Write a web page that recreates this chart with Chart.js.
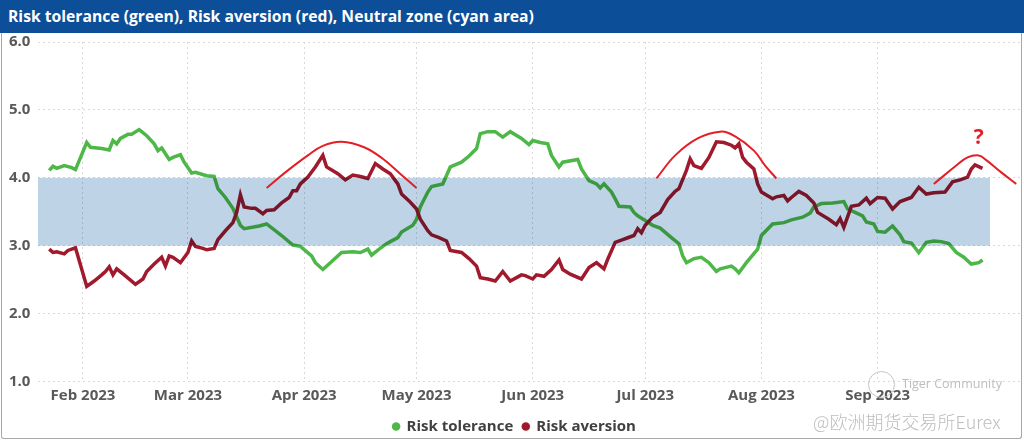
<!DOCTYPE html>
<html>
<head>
<meta charset="utf-8">
<title>Risk tolerance / Risk aversion</title>
<script src="https://cdn.jsdelivr.net/npm/chart.js@4.4.0/dist/chart.umd.min.js"></script>
<style>
    html, body { margin: 0; padding: 0; background: #fff; }
    #wrap { position: relative; width: 1024px; height: 444px; overflow: hidden; font-family: 'Open Sans', sans-serif; }
    #titleBar {
        position: absolute; left: 0; top: 0; width: 1024px; height: 33px;
        background: #0c4e98; color: #fff; font-weight: bold; font-size: 15.7px;
        line-height: 33px; padding-left: 8px; box-sizing: border-box; z-index: 3;
    }
    #frame {
        position: absolute; left: 1px; top: 33px; width: 1019px; height: 405px;
        border: 1px solid #a8a8a8; border-top: none; border-radius: 0 0 3px 3px;
    }
    #riskChart { position: absolute; left: 0; top: 0; z-index: 1; }
    .wm { position: absolute; z-index: 2; color: #bdbdbd; white-space: nowrap; }
    #wmLogo { left: 868px; top: 371px; width: 25px; height: 25px; border: 1px solid #c4c4c4; border-radius: 50%; }
    #wmTiger { left: 902px; top: 375px; font-size: 12.5px; }
    #wmEurex { left: 813px; top: 408px; font-size: 18px; font-family: 'Noto Sans CJK SC', sans-serif; font-weight: 300; }
</style>
</head>
<body>
<div id="wrap">
    <div id="titleBar">Risk tolerance (green), Risk aversion (red), Neutral zone (cyan area)</div>
    <div id="frame"></div>
    <canvas id="riskChart" width="1024" height="444"></canvas>
    <div class="wm" id="wmLogo"></div>
    <div class="wm" id="wmTiger">Tiger Community</div>
    <div class="wm" id="wmEurex">@欧洲期货交易所Eurex</div>
</div>

<script>
// Risk tolerance (green line)
const toleranceDates = ['01-23','01-24','01-25','01-27','01-29','01-30','02-02','02-03','02-06','02-08',
    '02-09','02-10','02-11','02-13','02-14','02-16','02-18','02-20','02-21','02-22',
    '02-24','02-25','02-27','02-28','03-02','03-03','03-06','03-08','03-09','03-11',
    '03-13','03-15','03-16','03-20','03-22','03-26','03-29','03-31','04-03','04-04',
    '04-06','04-08','04-11','04-14','04-16','04-18','04-19','04-21','04-23','04-24',
    '04-26','04-27','04-30','05-01','05-02','05-04','05-05','05-08','05-10','05-13',
    '05-15','05-17','05-18','05-20','05-22','05-24','05-26','05-29','05-31','06-01',
    '06-03','06-05','06-06','06-08','06-09','06-13','06-14','06-16','06-18','06-19',
    '06-20','06-22','06-23','06-24','06-27','06-28','06-29','07-01','07-03','07-05',
    '07-08','07-10','07-11','07-12','07-14','07-16','07-18','07-20','07-21','07-24',
    '07-25','07-26','07-28','07-31','08-01','08-04','08-07','08-09','08-12','08-14',
    '08-15','08-17','08-20','08-23','08-24','08-26','08-28','08-29','08-31','09-01',
    '09-03','09-05','09-07','09-08','09-10','09-12','09-14','09-16','09-18','09-20',
    '09-22','09-24','09-26','09-28','09-29'];
const toleranceValues = [4.11,4.17,4.14,4.18,4.15,4.12,4.52,4.45,4.43,4.41,
    4.55,4.50,4.58,4.64,4.64,4.71,4.62,4.50,4.40,4.44,
    4.27,4.30,4.34,4.23,4.07,4.08,4.03,4.02,3.84,3.71,
    3.55,3.30,3.25,3.29,3.32,3.15,3.01,2.99,2.85,2.75,
    2.65,2.75,2.90,2.91,2.90,2.95,2.86,2.95,3.03,3.06,
    3.12,3.20,3.30,3.39,3.57,3.79,3.87,3.91,4.16,4.23,
    4.32,4.43,4.65,4.68,4.68,4.60,4.68,4.58,4.49,4.55,
    4.52,4.50,4.33,4.16,4.23,4.27,4.13,3.96,3.91,3.85,
    3.91,3.79,3.69,3.58,3.57,3.49,3.44,3.37,3.30,3.26,
    3.12,3.03,2.85,2.75,2.81,2.83,2.75,2.62,2.66,2.70,
    2.66,2.60,2.75,2.95,3.15,3.32,3.34,3.38,3.42,3.48,
    3.57,3.62,3.63,3.65,3.54,3.49,3.44,3.35,3.32,3.21,
    3.20,3.29,3.16,3.06,3.04,2.90,3.05,3.07,3.06,3.03,
    2.90,2.83,2.73,2.75,2.79];

// Risk aversion (red line)
const aversionDates = ['01-23','01-24','01-25','01-27','01-28','01-30','02-02','02-04','02-06','02-07',
    '02-08','02-09','02-10','02-12','02-15','02-17','02-18','02-20','02-22','02-23',
    '02-24','02-25','02-27','03-01','03-02','03-03','03-05','03-06','03-08','03-09',
    '03-11','03-13','03-14','03-15','03-16','03-18','03-19','03-21','03-22','03-24',
    '03-26','03-28','03-29','03-30','03-31','04-02','04-04','04-06','04-07','04-10',
    '04-12','04-14','04-16','04-18','04-20','04-22','04-24','04-26','04-27','04-29',
    '05-01','05-02','05-04','05-05','05-07','05-09','05-10','05-13','05-15','05-17',
    '05-18','05-20','05-22','05-24','05-26','05-29','05-30','06-01','06-02','06-04',
    '06-06','06-08','06-09','06-11','06-14','06-16','06-18','06-20','06-21','06-23',
    '06-25','06-26','06-28','06-29','06-30','07-01','07-03','07-05','07-07','07-09',
    '07-10','07-12','07-13','07-14','07-16','07-18','07-20','07-22','07-24','07-25',
    '07-26','07-27','07-28','07-30','07-31','08-01','08-04','08-05','08-07','08-08',
    '08-09','08-11','08-13','08-15','08-16','08-19','08-21','08-22','08-23','08-25',
    '08-27','08-29','08-30','09-01','09-03','09-05','09-07','09-10','09-12','09-14',
    '09-16','09-19','09-21','09-23','09-25','09-26','09-27','09-29'];
const aversionValues = [2.95,2.90,2.91,2.88,2.93,2.97,2.40,2.48,2.57,2.62,
    2.69,2.57,2.66,2.57,2.43,2.51,2.62,2.73,2.83,2.70,
    2.85,2.83,2.75,2.90,3.07,2.99,2.96,2.94,2.96,3.09,
    3.22,3.34,3.49,3.75,3.57,3.55,3.55,3.47,3.52,3.53,
    3.63,3.71,3.81,3.81,3.91,4.01,4.16,4.33,4.16,4.06,
    3.97,4.04,4.02,3.99,4.21,4.13,4.06,3.91,3.76,3.66,
    3.54,3.39,3.22,3.16,3.12,3.07,2.93,2.90,2.81,2.70,
    2.53,2.51,2.48,2.62,2.48,2.57,2.56,2.51,2.57,2.55,
    2.65,2.79,2.65,2.58,2.51,2.68,2.75,2.66,2.80,3.05,
    3.09,3.11,3.15,3.25,3.19,3.30,3.42,3.49,3.68,3.80,
    3.84,4.11,4.28,4.18,4.14,4.30,4.53,4.52,4.48,4.44,
    4.50,4.30,4.23,4.13,3.91,3.79,3.69,3.72,3.74,3.66,
    3.71,3.80,3.74,3.63,3.49,3.39,3.31,3.40,3.27,3.58,
    3.60,3.70,3.62,3.71,3.70,3.54,3.65,3.71,3.86,3.76,
    3.78,3.79,3.94,3.97,4.01,4.13,4.19,4.14];

// Hand-drawn red arcs over the aversion peaks
const arcAprDates = ['03-22','03-27','04-02','04-06','04-11','04-17','04-22','04-27','05-01'];
const arcAprValues = [3.85,4.08,4.33,4.47,4.53,4.45,4.28,4.04,3.85];
const arcJulDates = ['07-04','07-09','07-15','07-21','07-25','07-30','08-02','08-05'];
const arcJulValues = [3.99,4.33,4.58,4.68,4.61,4.40,4.18,3.99];
const arcSepDates = ['09-16','09-22','09-25','09-28','09-30','10-04','10-08'];
const arcSepValues = [3.91,4.18,4.30,4.33,4.26,4.08,3.91];
const questionDate = '09-28';
const questionValue = 4.59;

// Neutral zone
const bandFrom = '01-20';
const bandTo = '10-01';
const bandLow = 3.0;
const bandHigh = 4.0;

// Axes
const axisFrom = '01-20';
const axisTo = '10-09';
const monthTickDates = ['02-01','03-01','04-01','05-01','06-01','07-01','08-01','09-01'];
const monthTickLabels = ['Feb 2023','Mar 2023','Apr 2023','May 2023','Jun 2023','Jul 2023','Aug 2023','Sep 2023'];

function day(md) {
    const parts = md.split('-');
    return (Date.UTC(2023, parseInt(parts[0]) - 1, parseInt(parts[1])) - Date.UTC(2023, 0, 1)) / 86400000;
}

function points(dates, values) {
    return dates.map((d, i) => ({ x: day(d), y: values[i] }));
}

const GREEN = '#4db848';
const RED = '#a1192c';
const ARC = '#e41e26';

// draws the neutral zone above the data lines (multiply) and the question mark
const zonePlugin = {
    id: 'neutralZone',
    afterDatasetDraw(chart, args) {
        if (args.index !== 1) return;
        const ctx = chart.ctx;
        const x = chart.scales.x;
        const y = chart.scales.y;
        const x0 = x.getPixelForValue(day(bandFrom));
        const x1 = x.getPixelForValue(day(bandTo));
        const y0 = y.getPixelForValue(bandHigh);
        const y1 = y.getPixelForValue(bandLow);
        ctx.save();
        ctx.globalCompositeOperation = 'multiply';
        ctx.fillStyle = '#bfd3e6';
        ctx.fillRect(x0, y0, x1 - x0, y1 - y0);
        ctx.restore();
    },
    afterDatasetsDraw(chart) {
        const ctx = chart.ctx;
        ctx.save();
        ctx.fillStyle = ARC;
        ctx.font = 'bold 21px "Open Sans", sans-serif';
        ctx.textAlign = 'center';
        ctx.textBaseline = 'middle';
        ctx.fillText('?', chart.scales.x.getPixelForValue(day(questionDate)), chart.scales.y.getPixelForValue(questionValue));
        ctx.restore();
    }
};

const arcStyle = {
    borderColor: ARC,
    borderWidth: 2,
    pointRadius: 0,
    tension: 0.4,
    fill: false,
    order: 0
};

new Chart(document.getElementById('riskChart'), {
    type: 'line',
    data: {
        datasets: [{
            label: 'Risk tolerance',
            data: points(toleranceDates, toleranceValues),
            borderColor: GREEN,
            backgroundColor: GREEN,
            borderWidth: 3.5,
            pointRadius: 0,
            tension: 0,
            order: 2
        }, {
            label: 'Risk aversion',
            data: points(aversionDates, aversionValues),
            borderColor: RED,
            backgroundColor: RED,
            borderWidth: 3.5,
            pointRadius: 0,
            tension: 0,
            order: 1
        },
        Object.assign({ label: 'arcApr', data: points(arcAprDates, arcAprValues) }, arcStyle),
        Object.assign({ label: 'arcJul', data: points(arcJulDates, arcJulValues) }, arcStyle),
        Object.assign({ label: 'arcSep', data: points(arcSepDates, arcSepValues) }, arcStyle)]
    },
    options: {
        responsive: false,
        animation: false,
        devicePixelRatio: 1,
        layout: { padding: { top: 42, left: 9, right: 4, bottom: 0 } },
        plugins: {
            tooltip: { enabled: false },
            legend: {
                position: 'bottom',
                labels: {
                    generateLabels: chart => Chart.defaults.plugins.legend.labels.generateLabels(chart)
                        .filter(item => item.text.indexOf('arc') !== 0)
                        .sort((a, b) => a.datasetIndex - b.datasetIndex)
                        .map(item => Object.assign(item, { lineWidth: 0, strokeStyle: item.fillStyle })),
                    usePointStyle: true,
                    pointStyle: 'circle',
                    boxWidth: 6,
                    boxHeight: 6,
                    padding: 9.5,
                    color: '#404040',
                    font: { family: "'Open Sans', sans-serif", size: 15, weight: 'bold' }
                }
            }
        },
        scales: {
            x: {
                type: 'linear',
                min: day(axisFrom),
                max: day(axisTo),
                afterBuildTicks: scale => {
                    scale.ticks = monthTickDates.map(d => ({ value: day(d) }));
                },
                ticks: {
                    autoSkip: false,
                    maxRotation: 0,
                    padding: 5,
                    color: '#595959',
                    font: { family: "'Open Sans', sans-serif", size: 15, weight: 'bold' },
                    callback: (value, index) => monthTickLabels[index]
                },
                grid: { color: '#d9d9d9', drawTicks: false },
                border: { display: false, dash: [2, 3] }
            },
            y: {
                min: 1,
                max: 6,
                afterFit: scale => { scale.width = 29; },
                ticks: {
                    stepSize: 1,
                    crossAlign: 'far',
                    padding: 0,
                    color: '#595959',
                    font: { family: "'Open Sans', sans-serif", size: 15, weight: 'bold' },
                    callback: value => value.toFixed(1)
                },
                grid: { color: '#d9d9d9', drawTicks: false },
                border: { display: false, dash: [2, 3] }
            }
        }
    },
    plugins: [zonePlugin]
});
</script>
</body>
</html>
